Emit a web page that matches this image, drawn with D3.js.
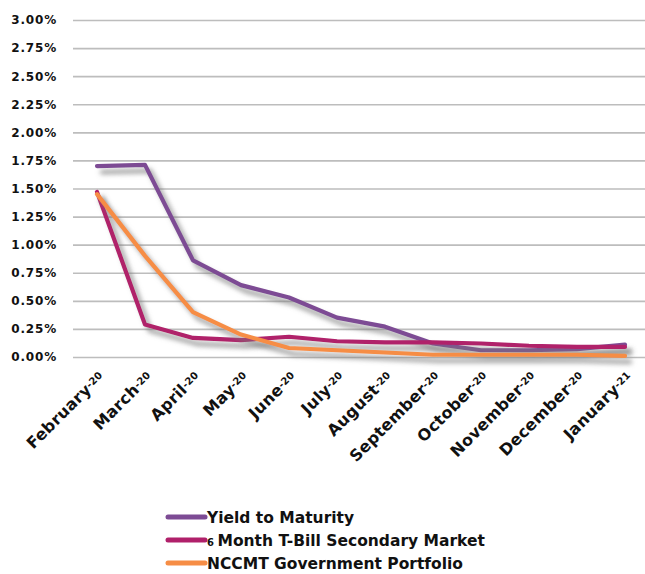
<!DOCTYPE html>
<html>
<head>
<meta charset="utf-8">
<script src="https://cdn.jsdelivr.net/npm/d3@7"></script>
<style>
  html, body { margin: 0; padding: 0; background: #fff; }
  svg { display: block; }
  text { font-family: "DejaVu Sans", sans-serif; font-weight: bold; fill: #111; }
</style>
</head>
<body>
<svg id="chart" width="645" height="574"></svg>
<script>
// Monthly yields, Feb 2020 – Jan 2021 (percent)
const months = ["February", "March", "April", "May", "June", "July", "August",
                "September", "October", "November", "December", "January"];
const years = ["20", "20", "20", "20", "20", "20", "20", "20", "20", "20", "20", "21"];

const yieldToMaturity = [1.70, 1.71, 0.86, 0.64, 0.53, 0.35, 0.27, 0.12, 0.06, 0.06, 0.07, 0.11];
const tBill6Month     = [1.47, 0.29, 0.17, 0.15, 0.18, 0.14, 0.13, 0.13, 0.12, 0.10, 0.09, 0.09];
const nccmtGov        = [1.45, 0.90, 0.40, 0.20, 0.08, 0.06, 0.04, 0.02, 0.02, 0.02, 0.02, 0.01];

const yTicks = [0, 0.25, 0.5, 0.75, 1, 1.25, 1.5, 1.75, 2, 2.25, 2.5, 2.75, 3];

const seriesNames = ["Yield to Maturity", "6 Month T-Bill Secondary Market", "NCCMT Government Portfolio"];
const seriesColors = ["#7d4b94", "#b0206a", "#f68d45"];
const seriesValues = [yieldToMaturity, tBill6Month, nccmtGov];

const svg = d3.select("#chart");

const x = d3.scaleBand().domain(d3.range(months.length)).range([73, 649]);
const y = d3.scaleLinear().domain([0, 3]).range([357, 20]);

// soft drop shadow under every line
const defs = svg.append("defs");
const f = defs.append("filter").attr("id", "shadow")
  .attr("x", "-10%").attr("y", "-10%").attr("width", "130%").attr("height", "140%");
f.append("feDropShadow").attr("dx", 5).attr("dy", 6).attr("stdDeviation", 2.4)
  .attr("flood-color", "#7a7a7a").attr("flood-opacity", 0.75);

// horizontal grid
const yAxis = d3.axisLeft(y).tickValues(yTicks).tickSize(-(645 - 73)).tickPadding(16)
  .tickFormat(d => d.toFixed(2) + "%");
const gy = svg.append("g").attr("transform", "translate(73,0)").call(yAxis);
gy.select(".domain").remove();
gy.selectAll(".tick line").attr("stroke", "#bdbdbd").attr("stroke-width", 1.6);
gy.selectAll(".tick text").attr("font-size", 12).attr("letter-spacing", 0.8)
  .attr("fill", "#111").style("font-family", "'DejaVu Sans', sans-serif").style("font-weight", "bold");

// month labels rotated
const gx = svg.append("g");
months.forEach((m, i) => {
  const cx = x(i) + x.bandwidth() / 2;
  const t = gx.append("text")
    .attr("transform", `translate(${cx + 8},${378}) rotate(-45)`)
    .attr("text-anchor", "end");
  t.append("tspan").attr("font-size", 16).attr("letter-spacing", 0.3).text(m);
  t.append("tspan").attr("font-size", 10).attr("dy", -3).text("-" + years[i]);
});

// series lines
const line = d3.line()
  .x((d, i) => x(i) + x.bandwidth() / 2)
  .y(d => y(d));

seriesValues.forEach((vals, k) => {
  svg.append("path")
    .datum(vals)
    .attr("d", line)
    .attr("fill", "none")
    .attr("stroke", seriesColors[k])
    .attr("stroke-width", 4.2)
    .attr("stroke-linecap", "round")
    .attr("stroke-linejoin", "round")
    .attr("filter", "url(#shadow)");
});

// legend
const lg = svg.append("g");
seriesNames.forEach((name, k) => {
  const yy = 517 + k * 23;
  lg.append("line").attr("x1", 168).attr("x2", 205).attr("y1", yy).attr("y2", yy)
    .attr("stroke", seriesColors[k]).attr("stroke-width", 5).attr("stroke-linecap", "round");
  const t = lg.append("text").attr("x", 207).attr("y", yy + 5.5).attr("font-size", 15.5);
  if (name.startsWith("6 ")) {
    t.append("tspan").attr("font-size", 10).text("6 ");
    t.append("tspan").text(name.slice(2));
  } else {
    t.text(name);
  }
});
</script>
</body>
</html>
